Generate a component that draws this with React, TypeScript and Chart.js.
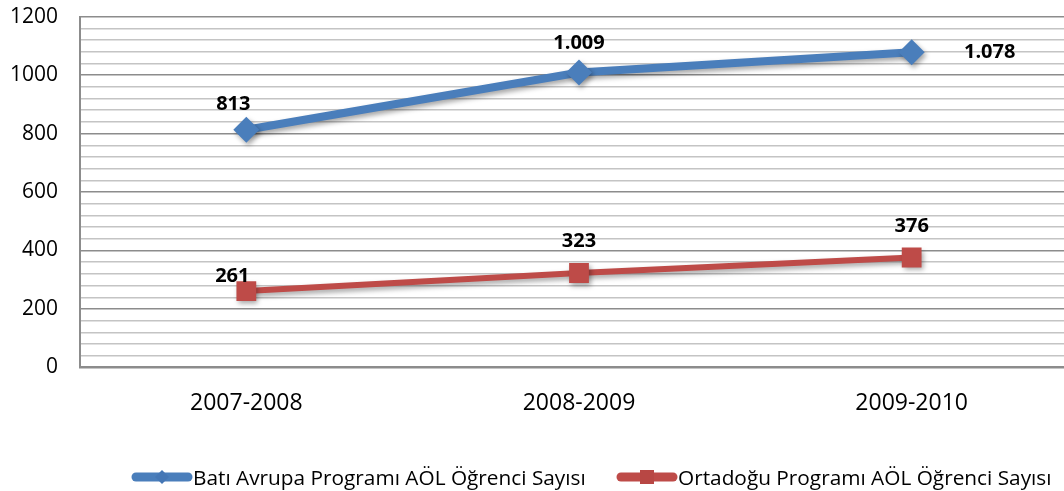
import React, { useEffect, useRef } from "react";
import { Chart, registerables } from "chart.js";

Chart.register(...registerables);

const categories = ["2007-2008", "2008-2009", "2009-2010"];
const batiValues = [813, 1009, 1078];
const ortaValues = [261, 323, 376];
const seriesNames = [
  "Batı Avrupa Programı AÖL Öğrenci Sayısı",
  "Ortadoğu Programı AÖL Öğrenci Sayısı",
];

const BLUE = "#4A7EBB";
const RED = "#BE4B48";
const FONT = "'Open Sans', 'DejaVu Sans', sans-serif";

// label offsets relative to each point (dx, dy)
const labelOffsets = [
  [[-13, -25], [0, -29], [78, 0]],
  [[-14, -15], [0, -32], [0, -31]],
];

const fmt = (v: number) =>
  String(v).replace(/\B(?=(\d{3})+(?!\d))/g, ".");

const shadowPlugin = {
  id: "shadowPlugin",
  beforeDatasetDraw(chart: any) {
    const ctx = chart.ctx;
    ctx.save();
    ctx.shadowColor = "rgba(0,0,0,0.35)";
    ctx.shadowBlur = 5;
    ctx.shadowOffsetX = 2;
    ctx.shadowOffsetY = 3;
  },
  afterDatasetDraw(chart: any) {
    chart.ctx.restore();
  },
};

const labelPlugin = {
  id: "labelPlugin",
  afterDatasetsDraw(chart: any) {
    const ctx = chart.ctx;
    ctx.save();
    ctx.font = `bold 20px ${FONT}`;
    ctx.fillStyle = "#000";
    ctx.textAlign = "center";
    ctx.textBaseline = "middle";
    chart.data.datasets.forEach((ds: any, di: number) => {
      const meta = chart.getDatasetMeta(di);
      meta.data.forEach((pt: any, i: number) => {
        const [dx, dy] = labelOffsets[di][i];
        ctx.fillText(fmt(ds.data[i]), pt.x + dx, pt.y + dy);
      });
    });
    ctx.restore();
  },
};

export default function App() {
  const ref = useRef<HTMLCanvasElement | null>(null);
  useEffect(() => {
    if (!ref.current) return;
    const chart = new Chart(ref.current, {
      type: "line",
      data: {
        labels: categories,
        datasets: [
          {
            label: seriesNames[0],
            data: batiValues,
            borderColor: BLUE,
            backgroundColor: BLUE,
            borderWidth: 8,
            pointStyle: "rectRot",
            pointRadius: 13,
            pointBorderWidth: 0,
            pointBackgroundColor: BLUE,
          },
          {
            label: seriesNames[1],
            data: ortaValues,
            borderColor: RED,
            backgroundColor: RED,
            borderWidth: 6,
            pointStyle: "rect",
            pointRadius: 14,
            pointBorderWidth: 0,
            pointBackgroundColor: RED,
          },
        ],
      },
      options: {
        animation: false,
        responsive: true,
        maintainAspectRatio: false,
        layout: { padding: { top: 0, right: 0, bottom: 52, left: 8 } },
        plugins: {
          legend: { display: false },
          tooltip: { enabled: false },
        },
        scales: {
          x: {
            offset: true,
            grid: { display: false, drawTicks: false },
            border: { display: true, color: "#8C8C8C", width: 2 },
            ticks: {
              padding: 22,
              color: "#000",
              font: { family: FONT, size: 23 },
            },
          },
          y: {
            min: 0,
            max: 1200,
            afterFit: (scale: any) => {
              scale.width = 72;
            },
            grid: {
              drawTicks: false,
              color: (c: any) =>
                c.tick && c.tick.value % 200 === 0 ? "#8C8C8C" : "#C4C4C4",
              lineWidth: (c: any) =>
                c.tick && c.tick.value % 200 === 0 ? 1.6 : 1.4,
            },
            border: { display: true, color: "#8C8C8C", width: 2 },
            ticks: {
              stepSize: 40,
              autoSkip: false,
              padding: 22,
              color: "#000",
              font: { family: FONT, size: 21 },
              callback: (v: any) => (Number(v) % 200 === 0 ? String(v) : ""),
            },
          },
        },
      },
      plugins: [shadowPlugin, labelPlugin],
    });
    return () => chart.destroy();
  }, []);

  const legendText: React.CSSProperties = {
    fontFamily: FONT,
    fontSize: 20.8,
    color: "#000",
    whiteSpace: "nowrap",
    position: "absolute",
    top: 464,
    lineHeight: "26px",
  };

  return (
    <div
      style={{
        position: "fixed",
        left: 0,
        top: 0,
        width: 1092,
        height: 491,
        background: "#fff",
        overflow: "hidden",
      }}
    >
      <div
        style={{
          position: "absolute",
          left: 0,
          top: -18,
          width: 1092,
          height: 509,
        }}
      >
        <canvas ref={ref} />
      </div>
      <svg
        style={{ position: "absolute", left: 0, top: 0 }}
        width={1092}
        height={491}
      >
        <line x1={136} y1={477} x2={188} y2={477} stroke={BLUE} strokeWidth={9} strokeLinecap="round" />
        <polygon points="162,470 169,477 162,484 155,477" fill="#4577B5" />
        <line x1={621} y1={477} x2={673} y2={477} stroke={RED} strokeWidth={9} strokeLinecap="round" />
        <rect x={640} y={470} width={14} height={14} fill="#B84744" />
      </svg>
      <div style={{ ...legendText, left: 193 }}>{seriesNames[0]}</div>
      <div style={{ ...legendText, left: 678 }}>{seriesNames[1]}</div>
    </div>
  );
}
